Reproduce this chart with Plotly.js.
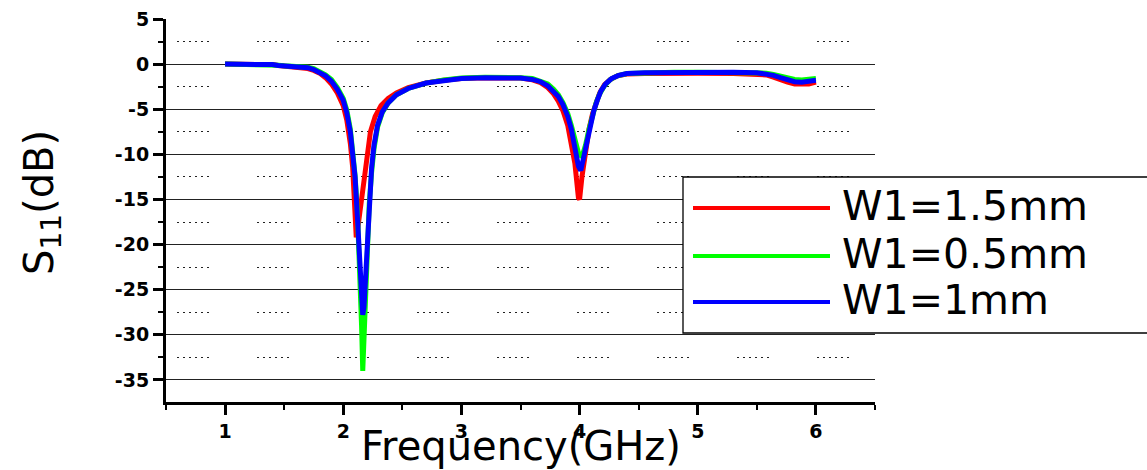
<!DOCTYPE html>
<html>
<head>
<meta charset="utf-8">
<script src="https://cdn.plot.ly/plotly-3.0.1.min.js"></script>
<style>html,body{margin:0;padding:0;background:#fff;}#chart{width:1147px;height:470px;}</style>
</head>
<body>
<div id="chart"></div>
<script>
// ---- data ----
const seriesNames = ['W1=1.5mm', 'W1=0.5mm', 'W1=1mm'];
const seriesColors = ['#ff0000', '#00ff00', '#0000ff'];

const freqRed = [1.0,1.2,1.4,1.45,1.5,1.6,1.7,1.75,1.8,1.85,1.9,1.95,2.0,2.03,2.06,2.08,2.095,2.11,2.125,2.14,2.16,2.18,2.2,2.23,2.27,2.32,2.38,2.45,2.55,2.7,2.85,3.0,3.2,3.4,3.5,3.6,3.67,3.73,3.78,3.82,3.86,3.9,3.93,3.96,3.99,4.0,4.02,4.05,4.08,4.11,4.14,4.17,4.21,4.26,4.32,4.4,4.55,4.7,4.8,5.0,5.3,5.5,5.58,5.64,5.7,5.76,5.82,5.88,5.94,6.0];
const s11Red = [0,0,-0.05,-0.15,-0.22,-0.3,-0.5,-0.7,-1.0,-1.5,-2.2,-3.2,-4.6,-6.2,-8.8,-11.5,-15,-19.2,-18,-16.5,-14.5,-11.8,-9.6,-7.5,-5.8,-4.6,-3.8,-3.2,-2.6,-2.1,-1.8,-1.6,-1.5,-1.5,-1.55,-1.75,-2.05,-2.6,-3.3,-4.1,-5.2,-6.8,-8.6,-11,-14.8,-15,-12.5,-9.5,-7.2,-5.5,-4.2,-3.2,-2.3,-1.7,-1.3,-1.1,-1.05,-1.0,-0.95,-1.0,-1.05,-1.1,-1.2,-1.45,-1.75,-2.0,-2.2,-2.25,-2.2,-2.0];

const freqGreen = [1.0,1.2,1.4,1.45,1.5,1.6,1.7,1.75,1.8,1.85,1.9,1.95,2.0,2.03,2.06,2.08,2.1,2.12,2.14,2.155,2.165,2.175,2.19,2.205,2.22,2.24,2.26,2.29,2.33,2.38,2.45,2.55,2.7,2.85,3.0,3.2,3.4,3.5,3.6,3.67,3.73,3.78,3.82,3.86,3.9,3.93,3.96,3.99,4.02,4.05,4.08,4.11,4.14,4.17,4.21,4.26,4.32,4.4,4.55,4.8,5.0,5.3,5.5,5.58,5.64,5.7,5.76,5.82,5.88,5.94,6.0];
const s11Green = [0,0,-0.05,-0.12,-0.18,-0.22,-0.35,-0.5,-0.8,-1.2,-1.7,-2.6,-3.8,-5.1,-7.2,-9.3,-12.3,-16.5,-22,-29,-34,-30,-24,-19.5,-15.5,-12,-9.4,-7.0,-5.4,-4.3,-3.4,-2.7,-2.1,-1.75,-1.55,-1.45,-1.45,-1.5,-1.6,-1.85,-2.2,-2.8,-3.4,-4.3,-5.5,-6.8,-8.3,-9.8,-10.3,-9.0,-7.2,-5.6,-4.3,-3.3,-2.4,-1.7,-1.3,-1.05,-0.95,-0.9,-0.9,-0.9,-0.9,-1.0,-1.15,-1.35,-1.55,-1.7,-1.75,-1.7,-1.6];

const freqBlue = [1.0,1.2,1.4,1.45,1.5,1.6,1.7,1.75,1.8,1.85,1.9,1.95,2.0,2.03,2.06,2.08,2.1,2.12,2.14,2.155,2.165,2.175,2.19,2.205,2.22,2.24,2.26,2.29,2.33,2.38,2.45,2.55,2.7,2.85,3.0,3.2,3.4,3.5,3.6,3.67,3.73,3.78,3.82,3.86,3.9,3.93,3.96,3.99,4.01,4.03,4.06,4.09,4.12,4.15,4.18,4.22,4.27,4.33,4.4,4.55,4.8,5.0,5.3,5.5,5.58,5.64,5.7,5.76,5.82,5.88,5.94,6.0];
const s11Blue = [0,0,-0.05,-0.15,-0.2,-0.25,-0.4,-0.6,-0.9,-1.3,-1.9,-2.8,-4.0,-5.4,-7.5,-9.5,-12.5,-17,-22.5,-27.3,-27.8,-27,-23,-19,-15,-11.5,-9,-6.8,-5.3,-4.3,-3.4,-2.7,-2.1,-1.8,-1.6,-1.5,-1.5,-1.55,-1.7,-1.95,-2.4,-3.0,-3.6,-4.5,-5.8,-7.2,-9.0,-11.3,-11.8,-10.5,-8.5,-6.8,-5.2,-4.0,-3.0,-2.2,-1.6,-1.25,-1.05,-0.95,-0.9,-0.9,-0.9,-0.95,-1.05,-1.25,-1.5,-1.75,-1.95,-2.0,-1.95,-1.8];

const xTickVals = [1, 2, 3, 4, 5, 6];
const yTickVals = [5, 0, -5, -10, -15, -20, -25, -30, -35];
const yTickText = ['5', '0', '-5', '-10', '-15', '-20', '-25', '-30', '-35'];
const yGridVals = [0, -5, -10, -15, -20, -25, -30, -35];
const xTitle = 'Frequency(GHz)';
const yTitle = 'S<sub>11</sub>(dB)';

// ---- styling / layout ----
const W = 1147, H = 470;
const M = {l: 166, r: 272, t: 19, b: 68};
const xRange = [0.5, 6.5];
const yRange = [-37.45, 5];
const plotW = W - M.l - M.r, plotH = H - M.t - M.b;
const px2paperX = px => (px - M.l) / plotW;
const py2paperY = py => (H - M.b - py) / plotH;

// dotted, interrupted minor grid (even-length dash list)
let dashParts = ['0px', '11px'];
for (let i = 0; i < 5; i++) { dashParts.push('2px', '4px'); }
dashParts.push('2px', '37px');
const minorDash = dashParts.join(',');

const FAM = 'DejaVu Sans, Arial, sans-serif';
const TICK_SIZE = 19;

const traces = [
  {x: freqRed, y: s11Red, name: seriesNames[0], yaxis: 'y'},
  {x: freqGreen, y: s11Green, name: seriesNames[1], yaxis: 'y'},
  {x: freqBlue, y: s11Blue, name: seriesNames[2], yaxis: 'y2'}
].map((t, i) => Object.assign(t, {
  type: 'scatter', mode: 'lines', showlegend: false, hoverinfo: 'skip',
  line: {color: seriesColors[i], width: 5}
}));

// hand-drawn legend box (long line samples as in the reference)
const legBox = {x0: px2paperX(683), x1: 1.6, y0: py2paperY(333), y1: py2paperY(177)};
const legRowsPx = [208, 256, 302];
const shapes = [{
  type: 'rect', xref: 'paper', yref: 'paper', layer: 'above',
  x0: legBox.x0, x1: legBox.x1, y0: legBox.y0, y1: legBox.y1,
  fillcolor: '#ffffff', line: {color: '#000', width: 1.3}
}];
const annotations = [];
seriesNames.forEach((nm, i) => {
  const yp = py2paperY(legRowsPx[i]);
  shapes.push({type: 'line', xref: 'paper', yref: 'paper', layer: 'above',
    x0: px2paperX(693), x1: px2paperX(830), y0: yp, y1: yp,
    line: {color: seriesColors[i], width: 4}});
  annotations.push({xref: 'paper', yref: 'paper', x: px2paperX(840), y: py2paperY(legRowsPx[i] - 2),
    xanchor: 'left', yanchor: 'middle', showarrow: false, text: nm,
    font: {family: FAM, size: 41, color: '#000'}});
});
// axis titles
annotations.push({xref: 'paper', yref: 'paper', x: 0.5, y: py2paperY(446), xanchor: 'center', yanchor: 'middle',
  showarrow: false, text: xTitle, font: {family: FAM, size: 40, color: '#000'}});
annotations.push({xref: 'paper', yref: 'paper', x: px2paperX(42), y: py2paperY(203), xanchor: 'center', yanchor: 'middle',
  textangle: -90, showarrow: false, text: yTitle, font: {family: FAM, size: 40, color: '#000'}});

const layout = {
  width: W, height: H, margin: M,
  paper_bgcolor: '#fff', plot_bgcolor: '#fff',
  showlegend: false,
  xaxis: {
    range: xRange, tickmode: 'array', tickvals: xTickVals,
    tickfont: {family: FAM, size: TICK_SIZE, weight: 700, color: '#000'},
    ticks: 'outside', ticklen: 10, tickwidth: 3, tickcolor: '#000',
    showline: true, linewidth: 3, linecolor: '#000', showgrid: false, zeroline: false,
    minor: {tickmode: 'linear', tick0: 0.5, dtick: 0.5, ticks: 'outside', ticklen: 5, tickwidth: 2, tickcolor: '#000', showgrid: false}
  },
  yaxis: {
    range: yRange, tickmode: 'array', tickvals: yTickVals, ticktext: yTickText,
    tickfont: {family: FAM, size: TICK_SIZE, weight: 700, color: '#000'},
    ticks: 'outside', ticklen: 10, tickwidth: 3, tickcolor: '#000',
    showline: true, linewidth: 3, linecolor: '#000', showgrid: false, zeroline: false,
    minor: {tickmode: 'linear', tick0: 0, dtick: 2.5, ticks: 'outside', ticklen: 5, tickwidth: 2, tickcolor: '#000',
      showgrid: true, gridcolor: '#222', gridwidth: 1.3, griddash: minorDash}
  },
  yaxis2: {
    range: yRange, overlaying: 'y', side: 'left', tickmode: 'array', tickvals: yGridVals,
    showticklabels: false, ticks: '', showline: false, zeroline: false,
    showgrid: true, gridcolor: '#222', gridwidth: 1.3
  },
  shapes: shapes,
  annotations: annotations
};

Plotly.newPlot('chart', traces, layout, {displayModeBar: false});
</script>
</body>
</html>
